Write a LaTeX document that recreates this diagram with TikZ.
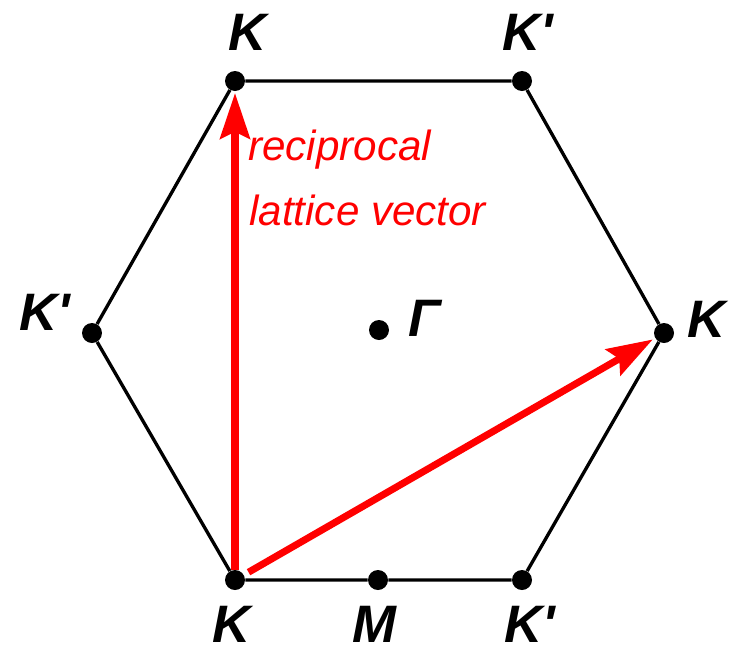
\documentclass[tikz,border=0pt]{standalone}
\usepackage{fontspec}
\setmainfont{Liberation Sans}
\usepackage{tikz}
\usetikzlibrary{positioning,arrows.meta}
\definecolor{bzred}{RGB}{255,0,0}
\newcommand{\kp}{K\textquotesingle}

\begin{document}
\begin{tikzpicture}[
  x=0.02cm,y=-0.02cm,
  dot/.style={circle,fill=black,inner sep=0pt,minimum size=0.4cm},
  lbl/.style={inner sep=0pt,font=\fontsize{30}{36}\selectfont\bfseries\itshape},
  veclbl/.style={inner sep=0pt,anchor=base west,color=bzred,
                 font=\fontsize{24}{29}\selectfont\itshape},
  edge/.style={line width=1.9pt,black},
  vec/.style={-{Stealth[length=26pt,width=17pt,inset=4pt]},line width=4pt,color=bzred}
]
\useasboundingbox (0,0) rectangle (734,650);
% zone corners
\node[dot] (kTL) at (235,81) {};
\node[dot] (kTR) at (522,81) {};
\node[dot] (kR)  at (664,333) {};
\node[dot] (kBR) at (522,580) {};
\node[dot] (kBL) at (235,580) {};
\node[dot] (kL)  at (92,333) {};
\node[dot] (mpt) at (378,580) {};
\node[dot] (gam) at (379,330) {};
\draw[edge] (kTL) -- (kTR) -- (kR) -- (kBR) -- (mpt) -- (kBL) -- (kL) -- (kTL);
% point labels
\node[lbl,above=11.5pt of kTL,xshift=7pt] {K};
\node[lbl,above=11.5pt of kTR,xshift=3.5pt] {\kp};
\node[lbl,left=6.5pt of kL,yshift=12pt] {\kp};
\node[lbl,right=7.5pt of kR,yshift=8pt] {K};
\node[lbl,right=10.5pt of gam,yshift=6.5pt] {Γ};
\node[lbl,below=9pt of kBL,xshift=-2pt] {K};
\node[lbl,below=9pt of mpt,xshift=-2pt] {M};
\node[lbl,below=9pt of kBR,xshift=4.5pt] {\kp};
% vectors
\draw[vec,shorten >=1pt] (kBL) -- (kTL);
\draw[vec,shorten <=3pt,shorten >=1.5pt] (kBL) -- (kR);
\node[veclbl] (recip) at (248,160) {reciprocal};
\node[veclbl] (latvec) at (249,225) {lattice vector};
\end{tikzpicture}
\end{document}
